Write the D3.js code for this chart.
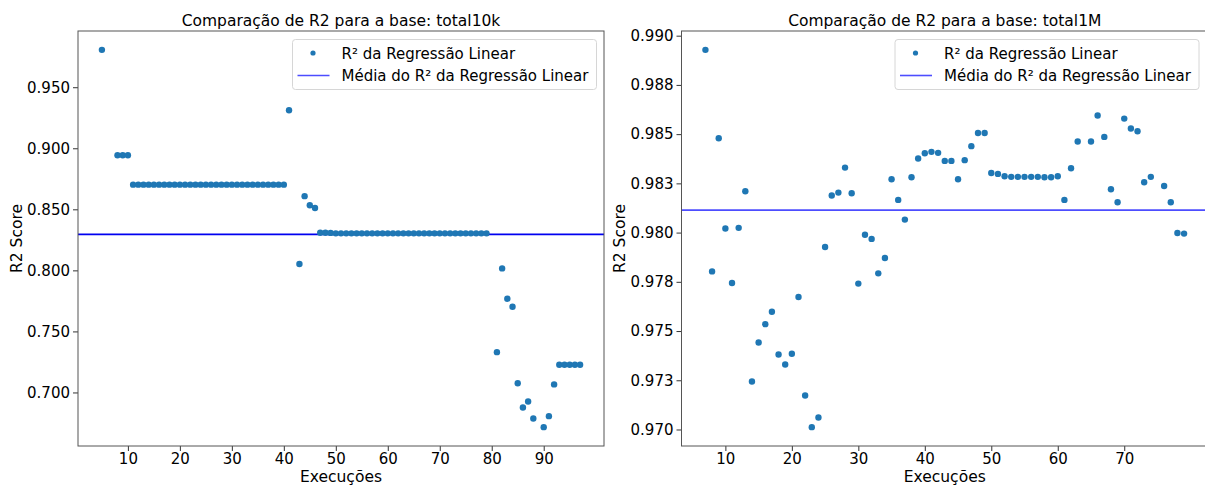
<!DOCTYPE html>
<html>
<head>
<meta charset="utf-8">
<script src="https://cdn.jsdelivr.net/npm/d3@7"></script>
<style>
  html, body { margin: 0; padding: 0; background: #fff; }
  svg { display: block; font-family: "DejaVu Sans", sans-serif; }
</style>
</head>
<body>
<svg id="chart" width="1205" height="486"></svg>
<script>
// ---------- DATA ----------
const titleLeft = "Comparação de R2 para a base: total10k";
const titleRight = "Comparação de R2 para a base: total1M";
const xLabel = "Execuções";
const yLabel = "R2 Score";
const legendPoints = "R² da Regressão Linear";
const legendMean = "Média do R² da Regressão Linear";

const execLeft = [5, 8, 9, 10,
  11,12,13,14,15,16,17,18,19,20,21,22,23,24,25,26,27,28,29,30,31,32,33,34,35,36,37,38,39,40,
  41, 43, 44, 45, 46,
  47,48,49,50,51,52,53,54,55,56,57,58,59,60,61,62,63,64,65,66,67,68,69,70,71,72,73,74,75,76,77,78,79,
  81,82,83,84,85,86,87,88,90,91,92,93,94,95,96,97];
const r2Left = [0.9806, 0.8943, 0.8943, 0.8943,
  0.8702,0.8702,0.8702,0.8702,0.8702,0.8702,0.8702,0.8702,0.8702,0.8702,0.8702,0.8702,0.8702,0.8702,0.8702,
  0.8702,0.8702,0.8702,0.8702,0.8702,0.8702,0.8702,0.8702,0.8702,0.8702,0.8702,0.8702,0.8702,0.8702,0.8702,
  0.9311, 0.8052, 0.8608, 0.8533, 0.8511,
  0.8308,0.8308,0.8307,0.8303,0.8303,0.8303,0.8303,0.8303,0.8303,0.8303,0.8303,0.8303,0.8303,0.8303,0.8303,
  0.8303,0.8303,0.8303,0.8303,0.8303,0.8303,0.8303,0.8303,0.8303,0.8303,0.8303,0.8303,0.8303,0.8303,0.8303,
  0.8303,0.8303,0.8303,
  0.7330,0.8016,0.7768,0.7702,0.7076,0.6877,0.6926,0.6787,0.6716,0.6806,0.7066,0.7227,0.7227,0.7227,0.7227,0.7227];
const meanLeft = [0.8295];

const execRight = [7,8,9,10,11,12,13,14,15,16,17,18,19,20,21,22,23,24,25,26,27,28,29,30,31,32,33,34,35,36,37,38,39,40,
  41,42,43,44,45,46,47,48,49,50,51,52,53,54,55,56,57,58,59,60,61,62,63,65,66,67,68,69,70,71,72,73,74,76,77,78,79];
const r2Right = [0.98928,0.97803,0.98479,0.98021,0.97744,0.98024,0.98210,0.97244,0.97442,0.97535,0.97598,0.97381,
  0.97330,0.97385,0.97673,0.97173,0.97012,0.97061,0.97927,0.98188,0.98203,0.98330,0.98200,0.97741,0.97989,0.97968,
  0.97793,0.97871,0.98271,0.98166,0.98066,0.98281,0.98376,0.98403,0.98410,0.98405,0.98364,0.98364,0.98271,0.98368,
  0.98439,0.98506,0.98506,0.98303,0.98298,0.98286,0.98283,0.98283,0.98283,0.98283,0.98283,0.98281,0.98281,0.98286,
  0.98166,0.98327,0.98463,0.98463,0.98595,0.98486,0.98220,0.98154,0.98579,0.98529,0.98515,0.98256,0.98283,
  0.98237,0.98154,0.97998,0.97995];
const meanRight = [0.98114];

const xTicksLeft = [10,20,30,40,50,60,70,80,90];
const yTicksLeft = [0.70,0.75,0.80,0.85,0.90,0.95];
const yTickLabelsLeft = ["0.700","0.750","0.800","0.850","0.900","0.950"];
const xTicksRight = [10,20,30,40,50,60,70];
const yTicksRight = [0.970,0.9725,0.975,0.9775,0.980,0.9825,0.985,0.9875,0.990];
const yTickLabelsRight = ["0.970","0.973","0.975","0.978","0.980","0.983","0.985","0.988","0.990"];

// ---------- DRAW ----------
const svg = d3.select("#chart");
const pointColor = "#1f77b4";

function padDomain(vals) {
  const [a, b] = d3.extent(vals);
  const m = (b - a) * 0.05;
  return [a - m, b + m];
}

function panel(opts) {
  const { left, right, top, bottom, xs, ys, mean, xTicks, yTicks, yTickLabels, title,
          meanColor, legendX, ylabX } = opts;
  const x = d3.scaleLinear().domain(padDomain(xs)).range([left, right]);
  const y = d3.scaleLinear().domain(padDomain(ys)).range([bottom, top]);
  const g = svg.append("g");

  const clipId = "clip" + Math.round(left);
  svg.append("clipPath").attr("id", clipId)
    .append("rect").attr("x", left).attr("y", top).attr("width", right - left).attr("height", bottom - top);

  // mean line
  g.append("line").attr("clip-path", `url(#${clipId})`)
    .attr("x1", left).attr("x2", right)
    .attr("y1", y(mean[0])).attr("y2", y(mean[0]))
    .attr("stroke", meanColor).attr("stroke-width", 1.6);

  // points
  g.append("g").selectAll("circle").data(xs.map((d, i) => [d, ys[i]])).join("circle")
    .attr("cx", d => x(d[0])).attr("cy", d => y(d[1])).attr("r", 3.2)
    .attr("fill", pointColor);

  // axes
  const xAxis = d3.axisBottom(x).tickValues(xTicks).tickSize(5).tickPadding(2).tickFormat(d3.format("d"));
  const yAxis = d3.axisLeft(y).tickValues(yTicks).tickSize(5).tickPadding(3)
    .tickFormat((d, i) => yTickLabels[i]);
  const gx = g.append("g").attr("transform", `translate(0,${bottom})`).call(xAxis);
  const gy = g.append("g").attr("transform", `translate(${left},0)`).call(yAxis);
  [gx, gy].forEach(a => {
    a.select(".domain").remove();
    a.selectAll("line").attr("stroke", "#333").attr("stroke-width", 1);
    a.selectAll("text").attr("font-size", 15).attr("fill", "#000")
      .attr("font-family", "DejaVu Sans, sans-serif");
  });

  // frame
  g.append("rect").attr("x", left).attr("y", top).attr("width", right - left).attr("height", bottom - top)
    .attr("fill", "none").attr("stroke", "#555").attr("stroke-width", 1);

  // title & labels
  g.append("text").attr("x", (left + right) / 2).attr("y", 26).attr("text-anchor", "middle")
    .attr("font-size", 15.5).text(title);
  g.append("text").attr("x", (left + right) / 2).attr("y", 482)
    .attr("text-anchor", "middle").attr("font-size", 15.5).text(xLabel);
  g.append("text").attr("transform", `translate(${ylabX},${(top + bottom) / 2}) rotate(-90)`)
    .attr("text-anchor", "middle").attr("font-size", 15.5).text(yLabel);

  // legend
  const lg = g.append("g").attr("transform", `translate(${legendX},39.5)`);
  lg.append("rect").attr("width", 304).attr("height", 50).attr("rx", 3)
    .attr("fill", "rgba(255,255,255,0.8)").attr("stroke", "#d6d6d6").attr("stroke-width", 1);
  lg.append("circle").attr("cx", 20.5).attr("cy", 13.5).attr("r", 2.6).attr("fill", pointColor);
  lg.append("line").attr("x1", 5).attr("x2", 37).attr("y1", 36).attr("y2", 36)
    .attr("stroke", "#4d4dff").attr("stroke-width", 1.6);
  lg.append("text").attr("x", 49).attr("y", 19).attr("font-size", 15).text(legendPoints);
  lg.append("text").attr("x", 49).attr("y", 41.5).attr("font-size", 15).text(legendMean);
}

panel({ left: 78, right: 604, top: 31, bottom: 446, xs: execLeft, ys: r2Left, mean: meanLeft,
  xTicks: xTicksLeft, yTicks: yTicksLeft, yTickLabels: yTickLabelsLeft, title: titleLeft,
  meanColor: "#0000f0", legendX: 292.5, ylabX: 22 });
panel({ left: 681.5, right: 1208, top: 31, bottom: 446, xs: execRight, ys: r2Right, mean: meanRight,
  xTicks: xTicksRight, yTicks: yTicksRight, yTickLabels: yTickLabelsRight, title: titleRight,
  meanColor: "#4d4dff", legendX: 895, ylabX: 625 });
</script>
</body>
</html>
